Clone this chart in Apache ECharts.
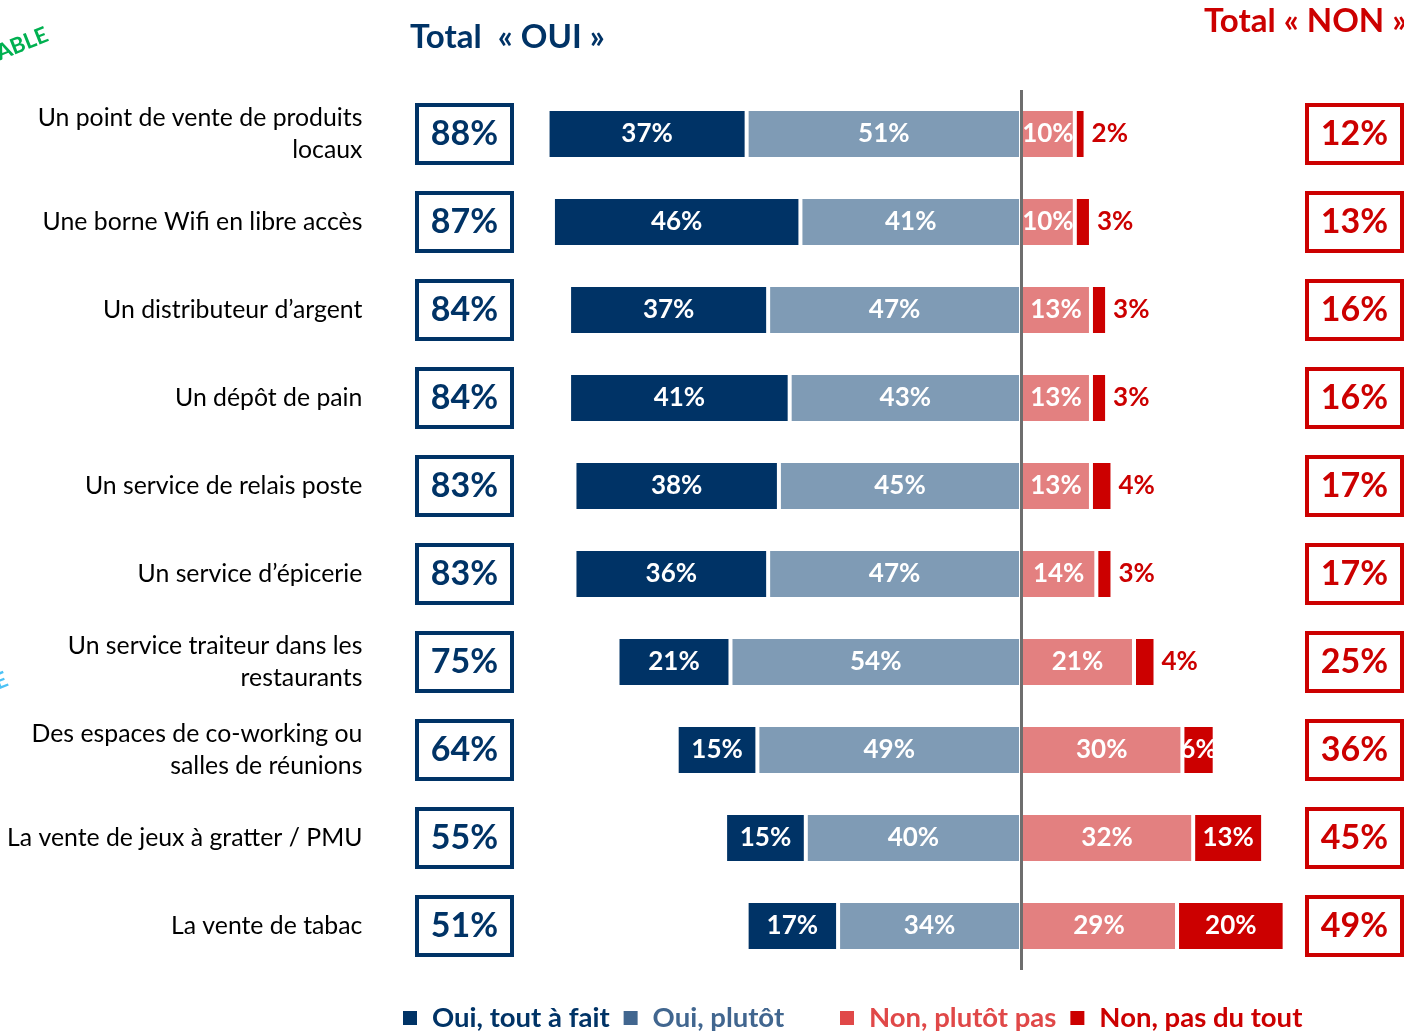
<!DOCTYPE html>
<html>
<head>
<meta charset="utf-8">
<script src="https://cdn.jsdelivr.net/npm/echarts@6/dist/echarts.min.js"></script>
<style>
  html, body { margin: 0; padding: 0; background: #fff; }
  #chart { width: 1404px; height: 1032px; }
</style>
</head>
<body>
<div id="chart"></div>
<script>
// données
var categories = [
  'Un point de vente de produits\nlocaux',
  'Une borne Wifi en libre accès',
  'Un distributeur d’argent',
  'Un dépôt de pain',
  'Un service de relais poste',
  'Un service d’épicerie',
  'Un service traiteur dans les\nrestaurants',
  'Des espaces de co-working ou\nsalles de réunions',
  'La vente de jeux à gratter / PMU',
  'La vente de tabac'
];
var ouiToutAFait = [37, 46, 37, 41, 38, 36, 21, 15, 15, 17];
var ouiPlutot = [51, 41, 47, 43, 45, 47, 54, 49, 40, 34];
var nonPlutotPas = [10, 10, 13, 13, 13, 14, 21, 30, 32, 29];
var nonPasDuTout = [2, 3, 3, 3, 4, 3, 4, 6, 13, 20];
var totalOui = [88, 87, 84, 84, 83, 83, 75, 64, 55, 51];
var totalNon = [12, 13, 16, 16, 17, 17, 25, 36, 45, 49];

var FONT = 'Lato';
var NAVY = '#003366';
var RED = '#cc0000';

var myChart = echarts.init(document.getElementById('chart'));

function pct(p) {
  return Math.abs(p.value) + '%';
}

var barLabel = {
  show: true,
  position: 'inside',
  color: '#fff',
  fontFamily: FONT,
  fontWeight: 'bold',
  fontSize: 26,
  formatter: pct
};

function hiddenCat(grid) {
  return {
    type: 'category', gridIndex: grid, data: categories, inverse: true,
    axisLine: { show: false }, axisTick: { show: false }, axisLabel: { show: false }
  };
}

function boxSeries(grid, totals, color) {
  return {
    type: 'bar',
    xAxisIndex: grid,
    yAxisIndex: grid,
    barWidth: 62,
    silent: true,
    data: totals.map(function (t) { return { value: 1, total: t }; }),
    itemStyle: { color: '#fff', borderColor: color, borderWidth: 4 },
    label: {
      show: true,
      position: 'inside',
      color: color,
      fontFamily: FONT,
      fontWeight: 'bold',
      fontSize: 34,
      formatter: function (p) { return p.data.total + '%'; }
    }
  };
}

var legendCommon = {
  top: 1004, padding: 0, icon: 'rect', itemWidth: 16, itemHeight: 16, itemGap: 12,
  selectedMode: false,
  textStyle: { fontSize: 27.5, fontWeight: 'bold', fontFamily: FONT, padding: [0, 0, 0, 9] }
};

var option = {
  backgroundColor: '#fff',
  animation: false,
  textStyle: { fontFamily: FONT },
  title: [
    {
      text: 'Total  « OUI »', left: 410, top: 21, padding: 0,
      textStyle: { color: NAVY, fontSize: 33, fontWeight: 'bold', fontFamily: FONT }
    },
    {
      text: 'Total « NON »', left: 1204, top: 5, padding: 0,
      textStyle: { color: RED, fontSize: 33, fontWeight: 'bold', fontFamily: FONT }
    }
  ],
  legend: [
    Object.assign({}, legendCommon, {
      left: 401,
      data: [
        { name: 'Oui, tout à fait', itemStyle: { color: NAVY }, textStyle: { color: NAVY } },
        { name: 'Oui, plutôt', itemStyle: { color: '#41668f' }, textStyle: { color: '#41668f' } }
      ]
    }),
    Object.assign({}, legendCommon, {
      left: 838,
      data: [
        { name: 'Non, plutôt pas', itemStyle: { color: '#e04848' }, textStyle: { color: '#e04848' } },
        { name: 'Non, pas du tout', itemStyle: { color: RED }, textStyle: { color: RED } }
      ]
    })
  ],
  grid: [
    { left: 375.4, top: 90, right: 1, height: 880 },
    { left: 415, top: 90, width: 99, height: 880 },
    { left: 1305, top: 90, width: 103, height: 880 }
  ],
  xAxis: [
    { type: 'value', gridIndex: 0, min: -120, max: 71, show: false },
    { type: 'value', gridIndex: 1, min: 0, max: 1, show: false },
    { type: 'value', gridIndex: 2, min: 0, max: 1, show: false }
  ],
  yAxis: [
    {
      type: 'category', gridIndex: 0, data: categories, inverse: true,
      axisLine: { show: false }, axisTick: { show: false },
      axisLabel: {
        color: '#000', fontSize: 24.8, fontFamily: FONT, lineHeight: 32,
        align: 'right', margin: 13, padding: [0, 0, 6, 0]
      }
    },
    hiddenCat(1),
    hiddenCat(2)
  ],
  graphic: [
    {
      type: 'text', x: 22, y: 44, rotation: 0.38,
      style: {
        text: 'ABLE', fill: '#00b050', font: 'bold 22px Lato',
        textAlign: 'center', textVerticalAlign: 'middle'
      }
    },
    {
      type: 'text', x: 1, y: 681, rotation: 0.38,
      style: {
        text: 'E', fill: '#4cc2f5', font: 'bold 22px Lato',
        textAlign: 'center', textVerticalAlign: 'middle'
      }
    }
  ],
  series: [
    {
      name: 'Oui, plutôt', type: 'bar', stack: 'total', barWidth: 50,
      data: ouiPlutot.map(function (v) { return -v; }),
      itemStyle: { color: '#7f9bb5', borderColor: '#fff', borderWidth: 2 },
      label: barLabel,
      markLine: {
        silent: true, symbol: 'none',
        label: { show: false },
        lineStyle: { color: '#6e6e6e', width: 3, type: 'solid' },
        data: [{ xAxis: 0 }]
      }
    },
    {
      name: 'Oui, tout à fait', type: 'bar', stack: 'total', barWidth: 50,
      data: ouiToutAFait.map(function (v) { return -v; }),
      itemStyle: { color: NAVY, borderColor: '#fff', borderWidth: 2 },
      label: barLabel
    },
    {
      name: 'Non, plutôt pas', type: 'bar', stack: 'total', barWidth: 50,
      data: nonPlutotPas,
      itemStyle: { color: '#e38080', borderColor: '#fff', borderWidth: 2 },
      label: barLabel
    },
    {
      name: 'Non, pas du tout', type: 'bar', stack: 'total', barWidth: 50,
      data: nonPasDuTout.map(function (v) {
        if (v < 5) {
          return { value: v, label: { position: 'right', color: RED, distance: 6 } };
        }
        return v;
      }),
      itemStyle: { color: RED, borderColor: '#fff', borderWidth: 2 },
      label: barLabel
    },
    boxSeries(1, totalOui, NAVY),
    boxSeries(2, totalNon, RED)
  ]
};

myChart.setOption(option);
</script>
</body>
</html>
